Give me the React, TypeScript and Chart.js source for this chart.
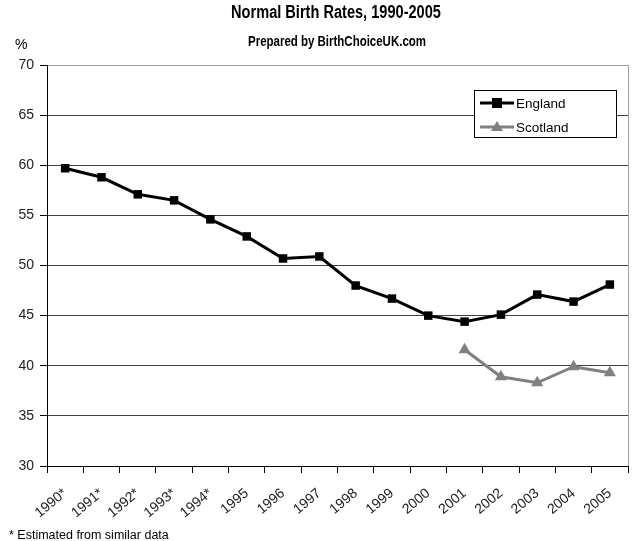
import React, { useEffect, useRef } from "react";
import { Chart, registerables } from "chart.js";

Chart.register(...registerables);

const years = ["1990*", "1991*", "1992*", "1993*", "1994*", "1995", "1996", "1997", "1998", "1999", "2000", "2001", "2002", "2003", "2004", "2005"];
const england = [59.7, 58.8, 57.1, 56.5, 54.6, 52.9, 50.7, 50.9, 48.0, 46.7, 45.0, 44.4, 45.1, 47.1, 46.4, 48.1];
const scotland = [null, null, null, null, null, null, null, null, null, null, null, 41.6, 38.9, 38.3, 39.9, 39.3];
const yTicks = [30, 35, 40, 45, 50, 55, 60, 65, 70];

const titleText = "Normal Birth Rates, 1990-2005";
const subtitleText = "Prepared by BirthChoiceUK.com";
const footText = "* Estimated from similar data";

const FONT = "'Liberation Sans', Arial, sans-serif";

function narrowText(ctx: any, text: string, cx: number, cy: number, font: string, sx: number) {
  ctx.save();
  ctx.translate(cx, cy);
  ctx.scale(sx, 1);
  ctx.font = font;
  ctx.textAlign = "center";
  ctx.textBaseline = "middle";
  ctx.fillText(text, 0, 0);
  ctx.restore();
}

const decorPlugin = {
  id: "decor",
  afterDraw(chart: any) {
    const ctx = chart.ctx;
    const ca = chart.chartArea;
    ctx.save();
    // right border
    ctx.strokeStyle = "#a0a0a0";
    ctx.lineWidth = 1;
    ctx.beginPath();
    ctx.moveTo(Math.round(ca.right) + 0.5, ca.top);
    ctx.lineTo(Math.round(ca.right) + 0.5, ca.bottom);
    ctx.stroke();

    // titles
    ctx.fillStyle = "#000";
    narrowText(ctx, titleText, 336, 13, `bold 18px ${FONT}`, 0.81);
    narrowText(ctx, subtitleText, 337, 42, `bold 14px ${FONT}`, 0.82);
    ctx.textAlign = "left";
    ctx.textBaseline = "middle";
    ctx.font = `14px ${FONT}`;
    ctx.fillText("%", 15, 45);
    ctx.font = `12.5px ${FONT}`;
    ctx.fillText(footText, 9, 536);

    // legend box
    const bx = 474.5, by = 90.5, bw = 142, bh = 47;
    ctx.fillStyle = "#fff";
    ctx.fillRect(bx, by, bw, bh);
    ctx.strokeStyle = "#000";
    ctx.lineWidth = 1;
    ctx.strokeRect(bx, by, bw, bh);
    const ds = chart.data.datasets;
    const rows = [103, 127];
    ds.forEach((d: any, i: number) => {
      const y = rows[i];
      ctx.strokeStyle = d.borderColor;
      ctx.lineWidth = 3;
      ctx.beginPath();
      ctx.moveTo(480, y);
      ctx.lineTo(514, y);
      ctx.stroke();
      ctx.fillStyle = d.backgroundColor;
      if (d.pointStyle === "rect") {
        ctx.fillRect(492, y - 5, 10, 10);
      } else {
        ctx.beginPath();
        ctx.moveTo(497, y - 6);
        ctx.lineTo(503, y + 4);
        ctx.lineTo(491, y + 4);
        ctx.closePath();
        ctx.fill();
      }
      ctx.fillStyle = "#000";
      ctx.font = `13.5px ${FONT}`;
      ctx.textAlign = "left";
      ctx.textBaseline = "middle";
      ctx.fillText(d.label, 516, y + 1);
    });
    ctx.restore();
  },
};

export default function App() {
  const ref = useRef<HTMLCanvasElement | null>(null);
  useEffect(() => {
    document.body.style.margin = "0";
    const chart = new Chart(ref.current as HTMLCanvasElement, {
      type: "line",
      data: {
        labels: years,
        datasets: [
          {
            label: "England",
            data: england,
            borderColor: "#000",
            backgroundColor: "#000",
            borderWidth: 3,
            pointStyle: "rect",
            pointRadius: 6,
            pointBorderWidth: 0,
            tension: 0,
          },
          {
            label: "Scotland",
            data: scotland as any,
            borderColor: "#808080",
            backgroundColor: "#808080",
            borderWidth: 3,
            pointStyle: "triangle",
            pointRadius: 7,
            pointBorderWidth: 0,
            tension: 0,
          },
        ],
      },
      options: {
        responsive: false,
        animation: false,
        devicePixelRatio: 1,
        layout: { padding: { top: 65, left: 0, right: 7, bottom: 0 } },
        plugins: {
          legend: { display: false },
          title: { display: false },
          tooltip: { enabled: false },
        },
        scales: {
          x: {
            offset: true,
            grid: {
              offset: true,
              drawOnChartArea: false,
              drawTicks: true,
              tickLength: 7,
              color: "#000",
            },
            border: { color: "#000", width: 1 },
            ticks: {
              autoSkip: false,
              maxRotation: 40,
              minRotation: 40,
              padding: 12,
              color: "#222",
              font: { family: FONT, size: 14 },
            },
            afterFit(scale: any) {
              scale.height = 75;
            },
          },
          y: {
            min: 30,
            max: 70,
            afterBuildTicks(scale: any) {
              scale.ticks = yTicks.map((v) => ({ value: v }));
            },
            grid: {
              color: (c: any) => (c.tick && c.tick.value === 70 ? "#a0a0a0" : "#404040"),
              tickColor: "#000",
              tickLength: 7,
              drawTicks: true,
            },
            border: { color: "#000", width: 1 },
            ticks: {
              padding: 6,
              color: "#222",
              font: { family: FONT, size: 14 },
            },
            afterFit(scale: any) {
              scale.width = 47;
            },
          },
        },
      },
      plugins: [decorPlugin],
    });
    return () => chart.destroy();
  }, []);
  return (
    <div style={{ width: 635, height: 541, background: "#fff" }}>
      <canvas ref={ref} width={635} height={541} style={{ display: "block" }} />
    </div>
  );
}
